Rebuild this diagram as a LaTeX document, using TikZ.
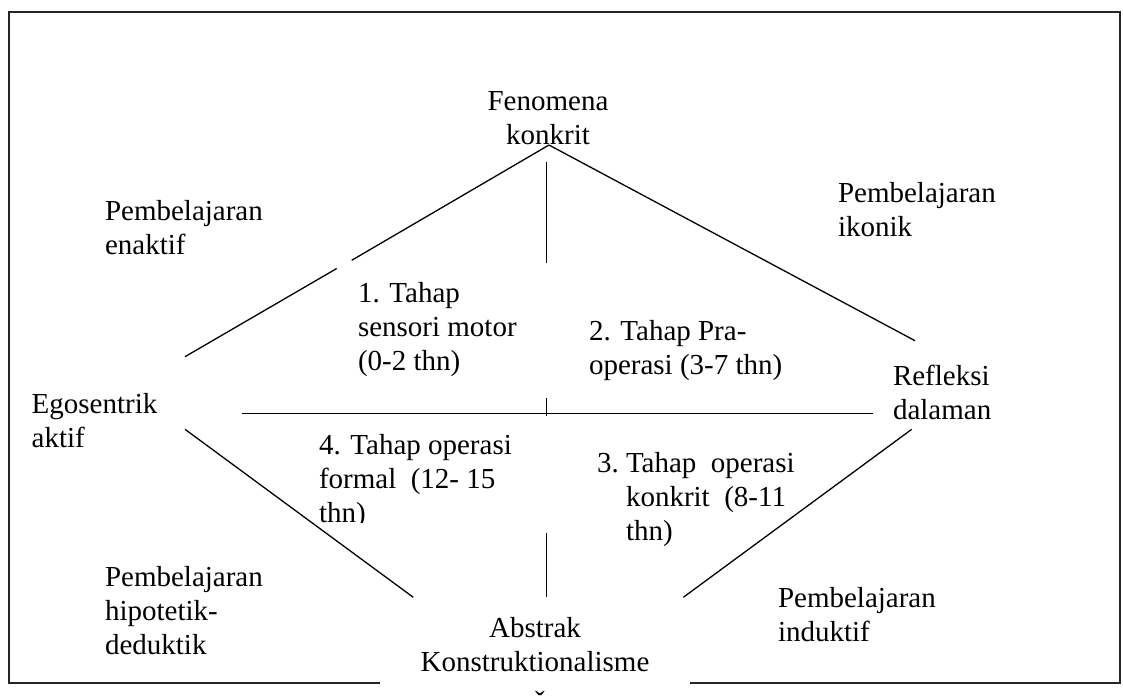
\documentclass[tikz,border=0pt]{standalone}
\usepackage{fontspec}
\setmainfont{Liberation Serif}
\begin{document}
\begin{tikzpicture}[x=1pt,y=-1pt,
  lbl/.style={inner sep=0pt, outer sep=0pt, align=left, font=\fontsize{29}{34}\selectfont},
  clbl/.style={lbl, align=center},
  ln/.style={line width=1.3pt, black},
  frame/.style={line width=2pt, black!85, line join=miter}]
\useasboundingbox (0,0) rectangle (1123,697);
% frame
\draw[frame] (380,683) -- (9,683) -- (9,12) -- (1120,12) -- (1120,683) -- (690,683);
% lines
\coordinate (apex) at (549,145);
\coordinate (lu1) at (351.7,260.3);
\coordinate (lu2) at (336.7,268.5);
\coordinate (lu3) at (185,356.7);
\coordinate (ru) at (915,340.7);
\coordinate (vt1) at (546.7,161.7);
\coordinate (vt2) at (546.7,262.7);
\coordinate (tk1) at (546.7,398);
\coordinate (tk2) at (546.7,416);
\coordinate (h1) at (241.7,413.3);
\coordinate (h2) at (873.3,413.3);
\coordinate (ll1) at (185,429.3);
\coordinate (ll2) at (413.3,597.3);
\coordinate (rl1) at (911.7,429.3);
\coordinate (rl2) at (683.3,597.3);
\coordinate (vb1) at (546.7,533.3);
\coordinate (vb2) at (546.7,597.3);
\draw[ln] (apex) -- (lu1);
\draw[ln] (lu2) -- (lu3);
\draw[ln] (apex) -- (ru);
\draw[ln] (vt1) -- (vt2);
\draw[ln] (tk1) -- (tk2);
\draw[ln] (h1) -- (h2);
\draw[ln] (ll1) -- (ll2);
\draw[ln] (rl1) -- (rl2);
\draw[ln] (vb1) -- (vb2);
% labels
\node[clbl, anchor=north] (fen) at (548,92) {Fenomena\\konkrit};
\node[lbl, anchor=north west] (enak) at (105,200) {Pembelajaran\\enaktif};
\node[lbl, anchor=north west] (ikon) at (838,182) {Pembelajaran\\ikonik};
\node[lbl, anchor=north west] (t1) at (358,282) {1. Tahap\\sensori motor\\(0-2 thn)};
\node[lbl, anchor=north west] (t2) at (589,320) {2. Tahap Pra-\\operasi (3-7 thn)};
\node[lbl, anchor=north west] (refl) at (893,365) {Refleksi\\dalaman};
\node[lbl, anchor=north west] (ego) at (31.7,393) {Egosentrik\\aktif};
\begin{scope}
\clip (300,420) rectangle (560,522);
\node[lbl, anchor=north west] (t4) at (319,434) {4. Tahap operasi\\formal~~(12-~15\\thn)};
\end{scope}
\node[lbl, anchor=north west] (t3) at (597,452) {\makebox[29pt][l]{3.}Tahap~~operasi\\\hspace*{29pt}konkrit~~(8-11\\\hspace*{29pt}thn)};
\node[lbl, anchor=north west] (hipo) at (105,566) {Pembelajaran\\hipotetik-\\deduktik};
\node[lbl, anchor=north west] (indu) at (778,587) {Pembelajaran\\induktif};
\node[clbl, anchor=north] (abs) at (535,617) {Abstrak\\Konstruktionalisme};
\node[inner sep=0pt, font=\fontsize{29}{34}\selectfont] (car) at (540,701) {ˇ};
\end{tikzpicture}
\end{document}
